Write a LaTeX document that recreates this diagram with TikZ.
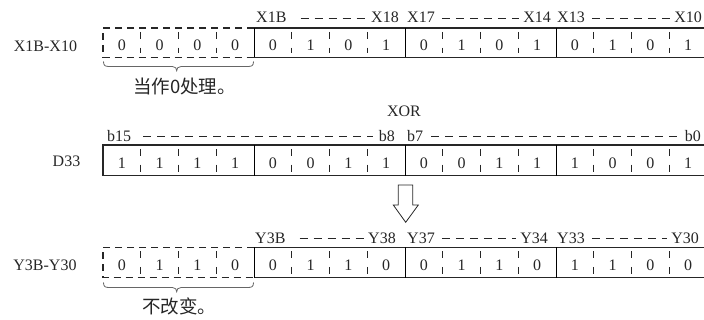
\documentclass[tikz,border=0pt]{standalone}
\usepackage{fontspec}
\setmainfont{Liberation Serif}
\newfontfamily\cjk{Noto Sans CJK SC}
\begin{document}
\begin{tikzpicture}[x=1pt,y=-1pt,
  txt/.style={font=\fontsize{16}{16}\selectfont, inner sep=0pt, text=black!85},
  bit/.style={txt, anchor=base},
  cn/.style={font=\cjk\fontsize{18.5}{18.5}\selectfont, inner sep=0pt, text=black!85, anchor=base west},
  frame/.style={line width=1.3pt, draw=black!85},
  grp/.style={line width=0.8pt, draw=black},
  sep/.style={line width=0.8pt, draw=black!85, dash pattern=on 7pt off 8.7pt},
  dbox/.style={line width=1.3pt, draw=black!85, dash pattern=on 7pt off 5pt},
  ldash/.style={line width=0.8pt, draw=black!85, dash pattern=on 8pt off 6pt},
  bracepath/.style={line width=0.8pt, draw=black!60},
]
\useasboundingbox (0,0) rectangle (704,320);
\def\cw{37.75}
% ---------- row 1 ----------
\def\T{28}\def\B{57.3}
\draw[frame] (254,\T) -- (707,\T) (254,\B) -- (707,\B);
\draw[dbox] (254,\T) -- (103,\T) -- (103,\B) -- (254,\B);
\foreach \b [count=\i from 0] in {0,0,0,0,0,1,0,1,0,1,0,1,0,1,0,1}
  \node[bit] (ra\i) at ({103+(\i+0.5)*\cw},{\B-7.2}) {\b};
% ---------- row 2 ----------
\def\T{145}\def\B{175.7}
\draw[frame] (707,\T) -- (103,\T) -- (103,\B) -- (707,\B);
\foreach \b [count=\i from 0] in {1,1,1,1,0,0,1,1,0,0,1,1,1,0,0,1}
  \node[bit] (rb\i) at ({103+(\i+0.5)*\cw},{\B-7.2}) {\b};
% ---------- row 3 ----------
\def\T{247.3}\def\B{277.7}
\draw[frame] (254,\T) -- (707,\T) (254,\B) -- (707,\B);
\draw[dbox] (254,\T) -- (103,\T) -- (103,\B) -- (254,\B);
\foreach \b [count=\i from 0] in {0,1,1,0,0,1,1,0,0,1,1,0,1,1,0,0}
  \node[bit] (rc\i) at ({103+(\i+0.5)*\cw},{\B-7.2}) {\b};
% ---------- separators ----------
\foreach \T/\B in {28/57.3,145/175.7,247.3/277.7}{
  \foreach \i in {1,2,3,5,6,7,9,10,11,13,14,15}
    \draw[sep] ({103+\i*\cw},{\T+4}) -- ({103+\i*\cw},{\B-4});
  \foreach \i in {4,8,12}
    \draw[grp] ({103+\i*\cw},\T) -- ({103+\i*\cw},\B);
}
% ---------- left labels ----------
\node[txt, anchor=base] (lx) at (45.5,52) {X1B-X10};
\node[txt, anchor=base] (ld) at (66.5,166.7) {D33};
\node[txt, anchor=base] (ly) at (45,271) {Y3B-Y30};
% ---------- top labels row 1 ----------
\node[txt, anchor=base west] (x1b) at (256,23) {X1B};
\node[txt, anchor=base east] (x18) at (399,23) {X18};
\node[txt, anchor=base west] (x17) at (407,23) {X17};
\node[txt, anchor=base east] (x14) at (551,23) {X14};
\node[txt, anchor=base west] (x13) at (557,23) {X13};
\node[txt, anchor=base east] (x10) at (702,23) {X10};
\draw[ldash] ([xshift=14pt,yshift=5pt]x1b.base east) -- ([xshift=-4pt,yshift=5pt]x18.base west);
\draw[ldash] ([xshift=7pt,yshift=5pt]x17.base east) -- ([xshift=-4pt,yshift=5pt]x14.base west);
\draw[ldash] ([xshift=7pt,yshift=5pt]x13.base east) -- ([xshift=-4pt,yshift=5pt]x10.base west);
% ---------- XOR & row 2 labels ----------
\node[txt, anchor=base] (xor) at (404,117) {XOR};
\node[txt, anchor=base west] (b15) at (107,141.7) {b15};
\node[txt, anchor=base east] (b8) at (395,141.7) {b8};
\node[txt, anchor=base west] (b7) at (407,141.7) {b7};
\node[txt, anchor=base east] (b0) at (701,141.7) {b0};
\draw[ldash] ([xshift=12pt,yshift=5pt]b15.base east) -- ([xshift=-6pt,yshift=5pt]b8.base west);
\draw[ldash] ([xshift=8pt,yshift=5pt]b7.base east) -- ([xshift=-4pt,yshift=5pt]b0.base west);
% ---------- row 3 labels ----------
\node[txt, anchor=base west] (y3b) at (255,243.5) {Y3B};
\node[txt, anchor=base east] (y38) at (396,243.5) {Y38};
\node[txt, anchor=base west] (y37) at (407,243.5) {Y37};
\node[txt, anchor=base east] (y34) at (548,243.5) {Y34};
\node[txt, anchor=base west] (y33) at (557,243.5) {Y33};
\node[txt, anchor=base east] (y30) at (699,243.5) {Y30};
\draw[ldash] ([xshift=14pt,yshift=5pt]y3b.base east) -- ([xshift=-4pt,yshift=5pt]y38.base west);
\draw[ldash] ([xshift=7pt,yshift=5pt]y37.base east) -- ([xshift=-4pt,yshift=5pt]y34.base west);
\draw[ldash] ([xshift=7pt,yshift=5pt]y33.base east) -- ([xshift=-4pt,yshift=5pt]y30.base west);
% ---------- arrow ----------
\draw[line width=0.8pt, draw=black!85] (398.3,185) -- (412.7,185) -- (412.7,205) -- (418.3,205)
  -- (405.7,222.3) -- (393.3,205) -- (398.3,205) -- cycle;
% ---------- braces ----------
\foreach \dy in {0,221}{
\draw[bracepath, shift={(0,\dy)}] (103.5,61.5) .. controls (103.5,65.5) and (105,66.5) .. (109,66.5)
  -- (172.5,66.5) .. controls (175.5,66.5) and (176.7,68.5) .. (176.7,70.7)
  .. controls (176.7,68.5) and (178,66.5) .. (181,66.5)
  -- (248,66.5) .. controls (252,66.5) and (253.5,65.5) .. (253.5,61.5);
}
\node[cn] (t1) at (133,93.7) {当作0处理。};
\node[cn] (t2) at (142,313.7) {不改变。};
\end{tikzpicture}
\end{document}
